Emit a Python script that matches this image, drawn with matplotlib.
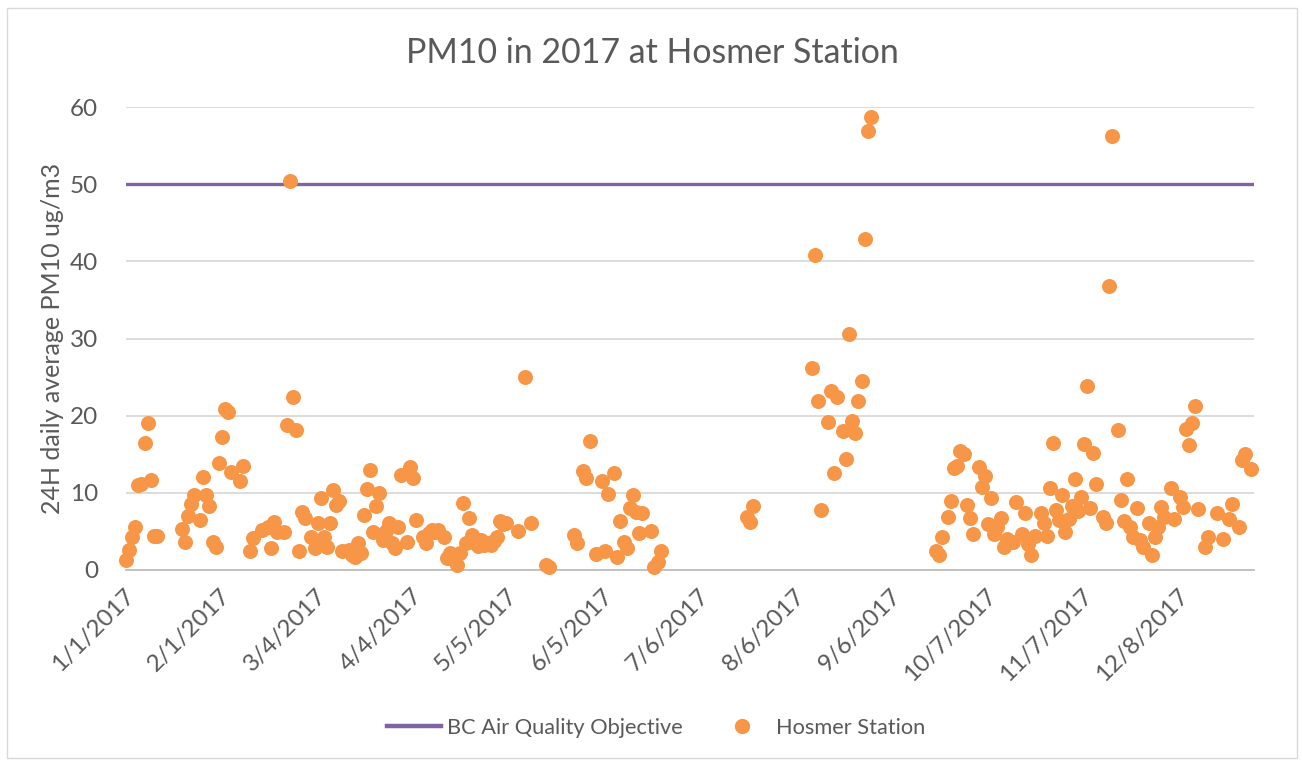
import matplotlib
matplotlib.use("Agg")
import matplotlib.pyplot as plt
import matplotlib.transforms as mtransforms
import numpy as np
import datetime as dt

# day offsets from 1 Jan 2017 and 24h PM10 values
jan_feb_days = [0, 1, 2, 3, 4, 5, 6, 7, 8, 9, 10, 18, 19, 20, 21, 22, 24, 25, 26, 27, 28, 29, 30,
                31, 32, 33, 34, 37, 38, 40, 41, 44, 46, 47, 48, 49, 51, 52, 53, 54, 55, 56, 57, 58]
jan_feb_pm10 = [1.3, 2.6, 4.3, 5.6, 11.0, 11.2, 16.5, 19.1, 11.7, 4.4, 4.4, 5.3, 3.6, 7.0, 8.5, 9.7,
                6.5, 12.1, 9.7, 8.3, 3.6, 3.0, 13.9, 17.2, 20.8, 20.5, 12.7, 11.5, 13.5, 2.5, 4.1,
                5.2, 5.6, 2.8, 6.2, 4.9, 4.9, 18.8, 50.4, 22.4, 18.1, 2.5, 7.5, 6.7]

mar_apr_days = [60, 61, 62, 63, 64, 65, 66, 67, 68, 69, 70, 72, 73, 74, 75, 76, 77, 78, 79, 80, 81,
                82, 83, 84, 85, 86, 87, 88, 89, 91, 92, 93, 94, 96, 97, 98, 99, 100, 101, 103, 104,
                105, 106, 107, 108, 109, 110, 111, 112, 113, 114, 115, 116, 117, 118, 119, 120,
                121, 122, 123]
mar_apr_pm10 = [4.3, 2.8, 6.1, 9.3, 4.3, 3.0, 6.1, 10.4, 8.4, 9.0, 2.4, 2.6, 2.0, 1.7, 3.5, 2.2,
                7.1, 10.5, 13.0, 4.9, 8.3, 10.0, 3.9, 5.0, 6.1, 3.5, 2.8, 5.6, 12.3, 3.6, 13.3,
                11.9, 6.5, 4.3, 3.5, 4.8, 5.2, 4.9, 5.2, 4.3, 1.6, 2.2, 1.3, 0.6, 2.2, 8.7, 3.5,
                6.7, 4.5, 3.5, 3.1, 3.9, 3.2, 3.5, 3.3, 3.8, 4.3, 6.3, 6.0, 6.1]

may_jun_days = [127, 129, 131, 136, 137, 145, 146, 148, 149, 150, 152, 154, 155, 156, 158, 159,
                160, 161, 162, 163, 164, 165, 166, 167, 170, 171, 172, 173]
may_jun_pm10 = [5.0, 25.0, 6.1, 0.6, 0.4, 4.5, 3.5, 12.8, 11.9, 16.7, 2.1, 11.5, 2.5, 9.8, 12.6,
                1.7, 6.3, 3.6, 2.9, 8.0, 9.7, 7.5, 4.8, 7.4, 5.0, 0.4, 1.0, 2.5]

jul_aug_days = [201, 202, 203, 222, 223, 224, 225, 227, 228, 229, 230, 232, 233, 234, 235, 236,
                237, 238, 239, 240, 241]
jul_aug_pm10 = [6.9, 6.2, 8.3, 26.2, 40.8, 21.9, 7.8, 19.2, 23.2, 12.6, 22.4, 18.0, 14.4, 30.6,
                19.3, 17.8, 21.9, 24.5, 42.9, 56.9, 58.7]

fall_days = [262, 263, 264, 266, 267, 268, 269, 270, 271, 272, 273, 274, 276, 277, 278, 279, 280,
             281, 282, 283, 284, 285, 287, 288, 290, 291, 292, 293, 294, 296, 297, 298, 299, 300,
             301, 302, 303, 304, 305, 306, 307, 308, 309, 310, 311, 312, 313, 314, 316, 317, 318,
             319, 321, 322, 323, 324, 325, 326, 327, 328, 329, 331, 332, 333, 334, 335, 336, 338,
             339, 341, 342, 343, 344, 345, 346, 347, 349, 350, 353, 355, 357, 358, 360, 361, 362,
             364]
fall_pm10 = [2.5, 1.9, 4.3, 6.9, 8.9, 13.2, 13.5, 15.4, 15.0, 8.4, 6.7, 4.7, 13.3, 10.8, 12.2, 6.0,
             9.3, 4.7, 5.6, 6.7, 3.0, 4.0, 3.6, 8.8, 4.7, 7.4, 3.4, 1.9, 4.4, 7.4, 6.1, 4.4, 10.6,
             16.5, 7.8, 6.5, 9.7, 4.9, 6.6, 8.3, 11.8, 7.6, 9.5, 16.3, 23.8, 8.0, 15.2, 11.2, 6.9,
             6.1, 36.8, 56.2, 18.1, 9.1, 6.3, 11.8, 5.6, 4.3, 8.0, 3.9, 3.0, 6.1, 1.9, 4.3, 5.6,
             8.2, 6.9, 10.6, 6.6, 9.5, 8.2, 18.3, 16.2, 19.0, 21.3, 7.9, 3.0, 4.3, 7.4, 4.0, 6.6,
             8.5, 5.6, 14.2, 15.0, 13.1]

objective = 50
tick_step_days = 31

start = dt.date(2017, 1, 1)
end = dt.date(2018, 1, 1)
days = jan_feb_days + mar_apr_days + may_jun_days + jul_aug_days + fall_days
pm10 = jan_feb_pm10 + mar_apr_pm10 + may_jun_pm10 + jul_aug_pm10 + fall_pm10
dates = [start + dt.timedelta(days=d) for d in days]

grey = "#595959"
orange = "#F79646"
purple = "#8064A2"
font = "Lato"

fig = plt.figure(figsize=(13.02, 7.64), dpi=100)
ax = fig.add_axes([126 / 1302, 1 - 570 / 764, 1128 / 1302, 463 / 764])

ax.axhline(objective, color=purple, lw=2.4, zorder=2)
ax.plot(dates, pm10, ls="none", marker="o", ms=10.8, mec="none", color=orange, zorder=3,
        clip_on=False)

ax.set_xlim(start, end)
ax.set_ylim(0, 60)
ax.set_yticks(range(0, 61, 10))
tick_dates = [start + dt.timedelta(days=int(d)) for d in np.arange(0, 365, tick_step_days)]
ax.set_xticks(tick_dates)
ax.set_xticklabels([f"{d.month}/{d.day}/{d.year}" for d in tick_dates], rotation=45,
                   ha="right", va="center", rotation_mode="anchor")
ax.tick_params(axis="x", length=0, pad=16, labelsize=17.5, labelcolor=grey)
ax.tick_params(axis="y", length=0, pad=20, labelsize=17.5, labelcolor=grey)
shift = mtransforms.ScaledTranslation(0.05, 0, fig.dpi_scale_trans)
for lab in ax.get_xticklabels():
    lab.set_transform(lab.get_transform() + shift)
for lab in ax.get_xticklabels() + ax.get_yticklabels():
    lab.set_family(font)

ax.grid(axis="y", color="#D9D9D9", lw=1.3)
ax.set_axisbelow(True)
for s in ["top", "right", "left"]:
    ax.spines[s].set_visible(False)
ax.spines["bottom"].set_color("#BFBFBF")
ax.spines["bottom"].set_linewidth(1.3)
ax.spines["bottom"].set_zorder(2.5)

ax.set_ylabel("24H daily average PM10 ug/m3", fontsize=18, color=grey, family=font, labelpad=4)
fig.text(652 / 1302, 1 - 53 / 764, "PM10 in 2017 at Hosmer Station", ha="center", va="center",
         fontsize=24.4, color=grey, family=font)

h1 = plt.Line2D([], [], color=purple, lw=3.2)
h2 = plt.Line2D([], [], ls="none", marker="o", ms=11, mec="none", color=orange)
fig.legend([h1, h2], ["BC Air Quality Objective", "Hosmer Station"], loc="center",
           bbox_to_anchor=(656 / 1302, 1 - 728 / 764), ncol=2, frameon=False,
           prop={"family": font, "size": 15.7}, labelcolor=grey, handlelength=2.45,
           handletextpad=0.3, columnspacing=1.5)

fig.patches.append(plt.Rectangle((7 / 1302, 6 / 764), 1290 / 1302, 750 / 764,
                                 transform=fig.transFigure, fill=False, ec="#D9D9D9", lw=1))

fig.savefig("out.png", dpi=100)
